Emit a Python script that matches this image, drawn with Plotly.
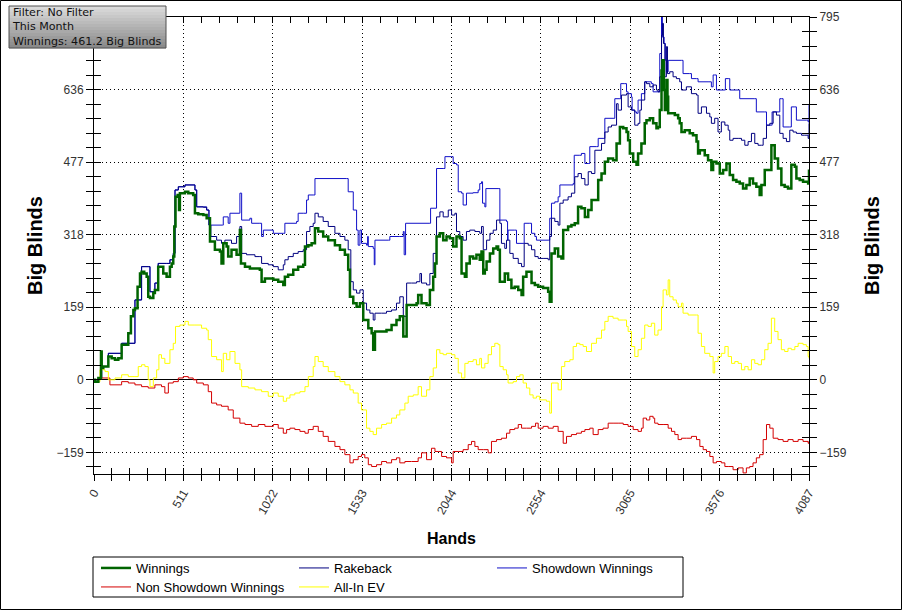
import plotly.graph_objects as go

# cumulative big blinds per hand as (hand, bb)
winnings = [
    (0, 0), (6, -4), (25, 4), (38, 4), (40, 62), (44, 26), (53, 29), (82, 51), (101, 47), (120, 44),
    (139, 47), (158, 77), (186, 77), (196, 102), (211, 139), (225, 153), (234, 157), (249, 204), (263, 233),
    (272, 237), (287, 233), (301, 226), (310, 182), (320, 179), (339, 190), (348, 197), (367, 248), (377, 248),
    (396, 233), (415, 226), (434, 248), (444, 255), (453, 270), (459, 336), (466, 401), (478, 405), (486, 372),
    (491, 409), (501, 409), (520, 412), (539, 409), (567, 405), (577, 365), (596, 363), (625, 361), (644, 354),
    (663, 303), (691, 285), (720, 281), (729, 255), (739, 299), (758, 292), (767, 270), (786, 285), (815, 274),
    (834, 328), (840, 255), (863, 248), (891, 244), (920, 244), (948, 241), (958, 215), (977, 222), (1006, 222),
    (1025, 219), (1053, 215), (1082, 208), (1091, 226), (1110, 230), (1139, 241), (1167, 248), (1196, 252),
    (1206, 292), (1225, 295), (1244, 299), (1263, 332), (1282, 325), (1310, 314), (1339, 306), (1377, 295),
    (1406, 285), (1434, 274), (1453, 241), (1463, 182), (1482, 168), (1501, 160), (1520, 168), (1539, 131),
    (1568, 113), (1587, 102), (1596, 66), (1606, 106), (1644, 106), (1672, 109), (1701, 120), (1729, 131),
    (1748, 139), (1768, 95), (1787, 164), (1815, 164), (1844, 168), (1853, 186), (1872, 168), (1901, 164),
    (1920, 197), (1939, 226), (1949, 255), (1958, 314), (1977, 321), (1996, 306), (2015, 314), (2034, 310),
    (2053, 292), (2072, 314), (2091, 310), (2101, 233), (2120, 226), (2129, 255), (2148, 270), (2167, 266),
    (2186, 274), (2205, 263), (2215, 281), (2225, 233), (2234, 241), (2244, 259), (2263, 277), (2282, 288),
    (2301, 292), (2310, 285), (2320, 215), (2339, 215), (2348, 233), (2367, 219), (2386, 201), (2405, 204),
    (2425, 197), (2444, 186), (2453, 226), (2472, 237), (2491, 237), (2501, 212), (2520, 208), (2539, 204),
    (2567, 201), (2586, 201), (2596, 193), (2605, 171), (2615, 277), (2634, 288), (2653, 270), (2672, 266),
    (2682, 328), (2710, 336), (2729, 339), (2748, 343), (2767, 379), (2786, 376), (2806, 357), (2825, 372),
    (2844, 394), (2863, 394), (2882, 438), (2901, 452), (2920, 478), (2939, 485), (2967, 481), (2987, 518),
    (3006, 554), (3025, 551), (3044, 543), (3053, 525), (3063, 496), (3082, 478), (3101, 471), (3110, 496),
    (3129, 518), (3148, 562), (3158, 569), (3177, 573), (3196, 562), (3215, 551), (3224, 554), (3234, 591),
    (3244, 678), (3249, 700), (3257, 635), (3263, 591), (3272, 657), (3278, 620), (3282, 584), (3301, 584),
    (3320, 580), (3339, 573), (3348, 562), (3358, 543), (3377, 547), (3405, 540), (3424, 536), (3444, 522),
    (3453, 496), (3463, 503), (3491, 492), (3510, 481), (3529, 460), (3539, 478), (3558, 474), (3577, 452),
    (3596, 460), (3615, 474), (3634, 449), (3653, 438), (3672, 434), (3691, 430), (3710, 419), (3729, 427),
    (3748, 441), (3767, 430), (3786, 423), (3805, 405), (3815, 427), (3834, 460), (3853, 460), (3872, 514),
    (3891, 485), (3910, 463), (3929, 427), (3948, 423), (3967, 419), (3986, 471), (4006, 467), (4015, 441),
    (4034, 438), (4053, 434), (4072, 434), (4082, 430), (4087, 461),
]

rakeback = [
    (0, 0), (25, 4), (44, 29), (82, 58), (158, 80), (234, 175), (272, 248), (310, 248), (320, 193), (348, 212),
    (367, 255), (415, 255), (434, 263), (453, 277), (463, 416), (482, 423), (520, 427), (577, 416), (587, 379),
    (625, 378), (644, 372), (657, 339), (668, 314), (701, 306), (729, 299), (748, 306), (786, 299), (815, 314),
    (834, 336), (844, 277), (872, 274), (920, 270), (948, 270), (958, 255), (996, 252), (1025, 248), (1053, 241),
    (1082, 252), (1091, 263), (1110, 270), (1139, 277), (1167, 281), (1196, 285), (1215, 325), (1234, 336),
    (1253, 343), (1263, 365), (1282, 357), (1310, 347), (1339, 336), (1377, 321), (1406, 314), (1434, 306),
    (1453, 285), (1468, 215), (1482, 197), (1501, 190), (1520, 197), (1539, 168), (1558, 153), (1577, 146),
    (1596, 131), (1606, 146), (1644, 146), (1672, 150), (1701, 153), (1729, 168), (1748, 182), (1768, 139),
    (1787, 212), (1815, 212), (1844, 215), (1863, 233), (1872, 212), (1901, 208), (1920, 233), (1939, 277),
    (1958, 357), (1977, 368), (1996, 357), (2025, 372), (2044, 361), (2063, 365), (2072, 325), (2091, 314),
    (2110, 306), (2129, 325), (2148, 328), (2177, 325), (2205, 321), (2215, 336), (2225, 285), (2244, 306),
    (2263, 321), (2282, 328), (2301, 350), (2320, 343), (2329, 299), (2348, 288), (2358, 306), (2377, 277),
    (2396, 266), (2425, 255), (2444, 248), (2459, 299), (2482, 295), (2501, 285), (2520, 270), (2539, 266),
    (2567, 266), (2596, 263), (2605, 314), (2615, 354), (2634, 347), (2653, 339), (2663, 387), (2682, 394),
    (2710, 401), (2729, 409), (2748, 445), (2767, 452), (2786, 441), (2806, 427), (2825, 456), (2844, 452),
    (2863, 503), (2901, 518), (2920, 543), (2939, 554), (2958, 558), (2987, 605), (2996, 591), (3015, 624),
    (3044, 627), (3053, 598), (3072, 591), (3091, 558), (3110, 562), (3120, 591), (3129, 613), (3148, 653),
    (3158, 649), (3177, 642), (3196, 646), (3215, 635), (3224, 631), (3234, 664), (3244, 755), (3249, 781),
    (3255, 737), (3263, 664), (3272, 730), (3278, 671), (3291, 675), (3310, 664), (3329, 660), (3348, 653),
    (3358, 635), (3386, 642), (3415, 627), (3444, 624), (3453, 584), (3472, 598), (3501, 584), (3520, 576),
    (3529, 562), (3548, 573), (3567, 543), (3586, 565), (3606, 558), (3625, 547), (3634, 525), (3653, 529),
    (3682, 529), (3701, 525), (3720, 514), (3739, 522), (3758, 540), (3777, 518), (3796, 514), (3815, 514),
    (3825, 529), (3844, 558), (3863, 562), (3882, 587), (3901, 580), (3920, 540), (3939, 529), (3958, 522),
    (3977, 547), (3996, 543), (4015, 540), (4044, 536), (4063, 536), (4082, 529), (4087, 562),
]

showdown = [
    (0, 0), (25, 4), (44, 29), (82, 58), (158, 80), (234, 175), (272, 248), (310, 248), (320, 193), (348, 212),
    (367, 255), (415, 255), (434, 263), (453, 277), (463, 416), (482, 423), (520, 427), (577, 416), (587, 379),
    (625, 379), (644, 372), (657, 339), (735, 339), (739, 357), (767, 343), (777, 365), (830, 365), (834, 409),
    (844, 350), (891, 354), (901, 343), (948, 343), (958, 314), (968, 328), (1025, 321), (1082, 321), (1091, 343),
    (1158, 347), (1167, 365), (1196, 365), (1215, 394), (1225, 405), (1253, 405), (1263, 441), (1444, 441),
    (1453, 412), (1482, 372), (1501, 328), (1510, 295), (1520, 328), (1529, 299), (1558, 295), (1564, 314),
    (1568, 292), (1596, 288), (1602, 252), (1606, 306), (1682, 306), (1691, 314), (1748, 314), (1768, 325),
    (1773, 274), (1781, 343), (1920, 343), (1924, 376), (1949, 376), (1958, 463), (1996, 463), (2006, 489),
    (2044, 489), (2053, 474), (2072, 471), (2082, 412), (2101, 409), (2110, 383), (2129, 409), (2167, 410),
    (2196, 416), (2205, 430), (2215, 434), (2221, 387), (2234, 379), (2240, 419), (2310, 419), (2320, 350),
    (2358, 347), (2364, 306), (2367, 328), (2405, 328), (2415, 299), (2453, 299), (2459, 343), (2491, 343),
    (2501, 321), (2520, 314), (2529, 306), (2596, 306), (2605, 354), (2615, 387), (2634, 390), (2653, 401),
    (2663, 427), (2739, 430), (2745, 492), (2777, 492), (2786, 496), (2806, 474), (2825, 474), (2834, 511),
    (2872, 511), (2882, 529), (2910, 529), (2920, 573), (2967, 573), (2977, 616), (3006, 616), (3011, 649),
    (3034, 649), (3044, 631), (3053, 627), (3072, 620), (3076, 591), (3091, 587), (3101, 584), (3110, 613),
    (3129, 627), (3148, 653), (3186, 649), (3196, 631), (3224, 631), (3234, 715), (3244, 795), (3249, 751),
    (3259, 737), (3266, 700), (3272, 675), (3282, 700), (3358, 700), (3367, 671), (3405, 671), (3415, 660),
    (3444, 660), (3453, 653), (3510, 653), (3529, 642), (3539, 668), (3548, 668), (3558, 635), (3606, 635),
    (3609, 660), (3625, 660), (3634, 635), (3682, 635), (3691, 616), (3777, 616), (3786, 587), (3834, 587),
    (3844, 558), (3872, 558), (3876, 587), (3910, 587), (3920, 616), (3929, 616), (3939, 554), (3977, 554),
    (3986, 598), (4006, 598), (4015, 569), (4072, 569), (4082, 565), (4087, 602),
]

non_showdown = [
    (0, 0), (6, -4), (25, 4), (63, 4), (91, -11), (120, -11), (158, -4), (196, -7), (234, -11), (272, -15),
    (310, -18), (348, -11), (386, -15), (405, -29), (425, -7), (453, -4), (482, 4), (510, 7), (539, 4), (567, 0),
    (587, -7), (625, -11), (653, -26), (672, -51), (701, -55), (729, -58), (767, -66), (796, -84), (834, -95),
    (863, -98), (901, -102), (939, -98), (977, -102), (1025, -98), (1053, -106), (1082, -117), (1101, -109),
    (1120, -106), (1148, -109), (1177, -113), (1206, -117), (1225, -109), (1253, -102), (1282, -113),
    (1310, -124), (1339, -135), (1377, -146), (1406, -153), (1434, -164), (1463, -182), (1482, -175),
    (1510, -168), (1529, -164), (1548, -171), (1568, -186), (1587, -190), (1615, -186), (1644, -179),
    (1672, -182), (1701, -175), (1729, -171), (1748, -182), (1777, -179), (1815, -179), (1853, -171),
    (1872, -160), (1901, -175), (1929, -150), (1949, -157), (1968, -157), (1987, -168), (2015, -171),
    (2044, -182), (2053, -157), (2082, -157), (2110, -153), (2139, -142), (2158, -135), (2177, -146),
    (2196, -153), (2225, -153), (2253, -160), (2272, -135), (2301, -131), (2329, -128), (2358, -117),
    (2377, -109), (2405, -106), (2425, -98), (2444, -106), (2472, -106), (2501, -102), (2524, -95), (2539, -106),
    (2567, -102), (2596, -106), (2625, -102), (2653, -113), (2682, -139), (2701, -124), (2729, -120),
    (2758, -117), (2786, -113), (2806, -109), (2834, -106), (2853, -120), (2882, -109), (2910, -106), (2939, -95),
    (2967, -95), (2996, -95), (3025, -98), (3053, -102), (3082, -109), (3110, -113), (3129, -106), (3139, -84),
    (3158, -88), (3177, -80), (3196, -84), (3205, -95), (3224, -98), (3253, -98), (3282, -106), (3301, -113),
    (3320, -120), (3339, -131), (3358, -128), (3386, -128), (3415, -124), (3444, -131), (3463, -146),
    (3482, -153), (3501, -157), (3520, -168), (3539, -182), (3558, -179), (3586, -182), (3606, -190),
    (3625, -190), (3653, -197), (3682, -193), (3710, -204), (3729, -193), (3748, -190), (3767, -182),
    (3786, -171), (3805, -164), (3825, -131), (3844, -98), (3863, -106), (3882, -128), (3910, -131),
    (3939, -135), (3967, -131), (3996, -135), (4025, -131), (4053, -135), (4082, -139), (4087, -135),
]

allin_ev = [
    (0, 0), (6, -4), (34, 22), (63, 18), (82, 0), (120, 4), (158, 11), (196, 7), (234, 7), (253, 29), (272, 33),
    (291, 29), (310, 0), (320, -15), (339, 4), (358, 22), (371, 55), (386, 47), (405, 36), (434, 66), (453, 80),
    (466, 117), (491, 120), (520, 128), (539, 120), (577, 120), (615, 113), (644, 109), (653, 88), (672, 51),
    (701, 44), (729, 18), (739, 58), (758, 44), (777, 62), (806, 36), (834, 22), (844, -15), (882, -18),
    (920, -22), (958, -26), (996, -36), (1025, -29), (1053, -36), (1082, -47), (1101, -40), (1120, -33),
    (1148, -29), (1177, -26), (1206, -15), (1225, 7), (1253, 29), (1263, 51), (1282, 40), (1310, 29), (1339, 18),
    (1377, 7), (1406, -4), (1434, -11), (1463, -22), (1482, -29), (1510, -51), (1529, -66), (1558, -106),
    (1577, -113), (1596, -120), (1615, -106), (1644, -98), (1672, -95), (1701, -84), (1729, -77), (1748, -66),
    (1777, -51), (1796, -36), (1825, -33), (1853, -15), (1872, -36), (1901, -22), (1920, 7), (1939, 26),
    (1958, 66), (1977, 58), (1996, 55), (2015, 58), (2044, 55), (2063, 47), (2082, 15), (2101, 4), (2120, 36),
    (2139, 40), (2167, 44), (2186, 33), (2205, 47), (2215, 26), (2234, 36), (2253, 55), (2272, 73), (2291, 80),
    (2310, 77), (2320, 29), (2339, 22), (2358, 11), (2367, -7), (2396, -4), (2415, 7), (2434, 11), (2453, -7),
    (2472, -18), (2491, -33), (2510, -40), (2529, -36), (2548, -44), (2567, -44), (2586, -47), (2605, -73),
    (2615, -7), (2634, -7), (2653, -22), (2672, 29), (2691, 40), (2720, 44), (2739, 73), (2758, 80), (2777, 77),
    (2796, 73), (2815, 62), (2844, 80), (2872, 91), (2901, 109), (2920, 128), (2939, 139), (2967, 135),
    (2996, 131), (3025, 131), (3044, 117), (3053, 106), (3072, 73), (3091, 51), (3110, 66), (3129, 91),
    (3148, 120), (3167, 117), (3186, 124), (3205, 98), (3224, 109), (3244, 160), (3253, 197), (3272, 186),
    (3282, 219), (3291, 182), (3310, 175), (3329, 168), (3339, 160), (3358, 168), (3367, 146), (3396, 142),
    (3444, 142), (3453, 102), (3472, 73), (3491, 58), (3520, 51), (3539, 15), (3548, 40), (3567, 51), (3586, 58),
    (3606, 73), (3625, 51), (3644, 36), (3663, 40), (3682, 36), (3701, 22), (3720, 29), (3739, 22), (3758, 44),
    (3777, 36), (3796, 33), (3815, 44), (3834, 66), (3853, 80), (3872, 135), (3891, 106), (3910, 88), (3929, 66),
    (3948, 62), (3967, 69), (3986, 66), (4006, 73), (4025, 80), (4053, 77), (4072, 73), (4082, 51), (4087, 47),
]

hand_ticks = [0, 511, 1022, 1533, 2044, 2554, 3065, 3576, 4087]
bb_ticks = [-159, 0, 159, 318, 477, 636, 795]
bb_range = [-206.4, 795]
info_lines = ["Filter: No Filter", "This Month", "Winnings: 461.2 Big Blinds"]

FONT = "Liberation Sans, Arial, sans-serif"
W, H = 902, 610
L, R, T, B = 94, 93, 17, 136
plot_w = W - L - R
plot_h = H - T - B


def px(x):
    return (x - L) / plot_w


def py(y):
    return (H - B - y) / plot_h


# name, points, colour, width, legend, rank  (drawn in this order)
series = [
    ("Showdown Winnings", showdown, "#1010c8", 1, "legend", 3),
    ("Rakeback", rakeback, "#000080", 1, "legend", 2),
    ("Non Showdown Winnings", non_showdown, "#d40000", 1, "legend2", 1),
    ("All-In EV", allin_ev, "#ffff00", 1, "legend2", 2),
    ("Winnings", winnings, "#006400", 2.5, "legend", 1),
]

fig = go.Figure()
for name, pts, color, width, leg, rank in series:
    xs, ys = zip(*pts)
    fig.add_trace(go.Scatter(
        x=xs, y=ys, mode="lines", name=name,
        line=dict(color=color, width=width, shape="hv"),
        legend=leg, legendrank=rank, hoverinfo="x+y+name",
    ))

# empty traces so the right-hand axis and the inner tick axes get drawn
for xa, ya in [("x", "y2"), ("x3", "y"), ("x", "y3")]:
    fig.add_trace(go.Scatter(x=[None], y=[None], xaxis=xa, yaxis=ya,
                             showlegend=False, hoverinfo="skip"))

x_max = hand_ticks[-1]
x_minor = dict(tickmode="linear", tick0=0, dtick=x_max / 40, ticklen=6, tickcolor="black")
y_minor = dict(tickmode="linear", tick0=0, dtick=bb_ticks[2] / 5, ticklen=7, tickcolor="black")
tick_font = dict(family=FONT, size=12, color="#333")

fig.update_layout(
    width=W, height=H,
    margin=dict(l=L, r=R, t=T, b=B, autoexpand=False),
    paper_bgcolor="white", plot_bgcolor="white",
    font=dict(family=FONT, size=12, color="black"),
    xaxis=dict(
        range=[0, x_max], tickmode="array", tickvals=hand_ticks, ticktext=[str(t) for t in hand_ticks],
        tickangle=-60, ticks="outside", ticklen=6, tickcolor="black", tickfont=tick_font,
        showline=True, linecolor="black", mirror=True,
        showgrid=True, gridcolor="black", griddash="1px,3px", gridwidth=1,
        zeroline=False, minor=dict(ticks="outside", **x_minor),
        title=dict(text="<b>Hands</b>", font=dict(family=FONT, size=16), standoff=16),
        automargin=False,
    ),
    xaxis3=dict(
        overlaying="x", anchor="y", range=[0, x_max], tickmode="array", tickvals=hand_ticks,
        ticks="inside", ticklen=6, tickcolor="black", mirror="allticks",
        showticklabels=False, showgrid=False, zeroline=False, showline=False,
        minor=dict(ticks="inside", **x_minor),
    ),
    yaxis=dict(
        range=bb_range, tickmode="array", tickvals=bb_ticks[:-1], tickfont=tick_font,
        ticks="outside", ticklen=7, tickcolor="black",
        showline=True, linecolor="black",
        showgrid=True, gridcolor="black", griddash="1px,3px", gridwidth=1,
        zeroline=True, zerolinecolor="black", zerolinewidth=1,
        minor=dict(ticks="outside", **y_minor),
        title=dict(text="<b>Big Blinds</b>", font=dict(family=FONT, size=20), standoff=8),
        automargin=False,
    ),
    yaxis2=dict(
        range=bb_range, tickmode="array", tickvals=bb_ticks, tickfont=tick_font,
        overlaying="y", anchor="x", side="right",
        ticks="outside", ticklen=7, tickcolor="black",
        showline=True, linecolor="black", showgrid=False, zeroline=False,
        minor=dict(ticks="outside", **y_minor),
        title=dict(text="<b>Big Blinds</b>", font=dict(family=FONT, size=20), standoff=19),
        automargin=False,
    ),
    yaxis3=dict(
        overlaying="y", anchor="x", side="left", range=bb_range, tickmode="array", tickvals=bb_ticks,
        ticks="inside", ticklen=7, tickcolor="black", mirror="allticks",
        showticklabels=False, showgrid=False, zeroline=False, showline=False,
        minor=dict(ticks="inside", **y_minor),
    ),
    legend=dict(
        orientation="h", x=px(96), xanchor="left", y=py(568), yanchor="middle",
        entrywidth=153, entrywidthmode="pixels", itemwidth=30,
        font=dict(family=FONT, size=13, color="black"), bgcolor="rgba(0,0,0,0)",
        traceorder="normal",
    ),
    legend2=dict(
        orientation="h", x=px(96), xanchor="left", y=py(587), yanchor="middle",
        entrywidth=153, entrywidthmode="pixels", itemwidth=30,
        font=dict(family=FONT, size=13, color="black"), bgcolor="rgba(0,0,0,0)",
        traceorder="normal",
    ),
    showlegend=True,
    hovermode="closest",
)

# box round the two legend rows
fig.add_shape(type="rect", xref="paper", yref="paper",
              x0=px(93), x1=px(683), y0=py(597), y1=py(557),
              line=dict(color="black", width=1), fillcolor="rgba(0,0,0,0)")

# frame round the whole picture
fig.add_shape(type="rect", xref="paper", yref="paper",
              x0=px(0.5), x1=px(W - 0.5), y0=py(H - 0.5), y1=py(0.5),
              line=dict(color="black", width=1), fillcolor="rgba(0,0,0,0)")

# info box top left, grey gradient from light top to darker bottom
box_x0, box_x1, box_y0, box_y1 = 9, 166, 6, 48
n_bands = 14
light, dark = 218, 138
for i in range(n_bands):
    g = round(light + (dark - light) * i / (n_bands - 1))
    y0 = box_y0 + (box_y1 - box_y0) * i / n_bands
    y1 = box_y0 + (box_y1 - box_y0) * (i + 1) / n_bands
    fig.add_shape(type="rect", xref="paper", yref="paper", layer="above",
                  x0=px(box_x0), x1=px(box_x1), y0=py(y1 + 0.3), y1=py(y0),
                  line=dict(width=0), fillcolor=f"rgb({g},{g},{g})")
fig.add_shape(type="rect", xref="paper", yref="paper", layer="above",
              x0=px(box_x0), x1=px(box_x1), y0=py(box_y1), y1=py(box_y0),
              line=dict(color="#505050", width=1), fillcolor="rgba(0,0,0,0)")
fig.add_annotation(
    xref="paper", yref="paper", x=px(box_x0 + 2), y=py(box_y0 - 1),
    xanchor="left", yanchor="top", align="left", showarrow=False,
    text="<br>".join(info_lines),
    font=dict(family="DejaVu Sans, Verdana, sans-serif", size=11.1, color="#111"),
    borderpad=0,
)

fig.write_html("out.html", config={"displayModeBar": False},
               post_script="document.body.style.margin='0';")
